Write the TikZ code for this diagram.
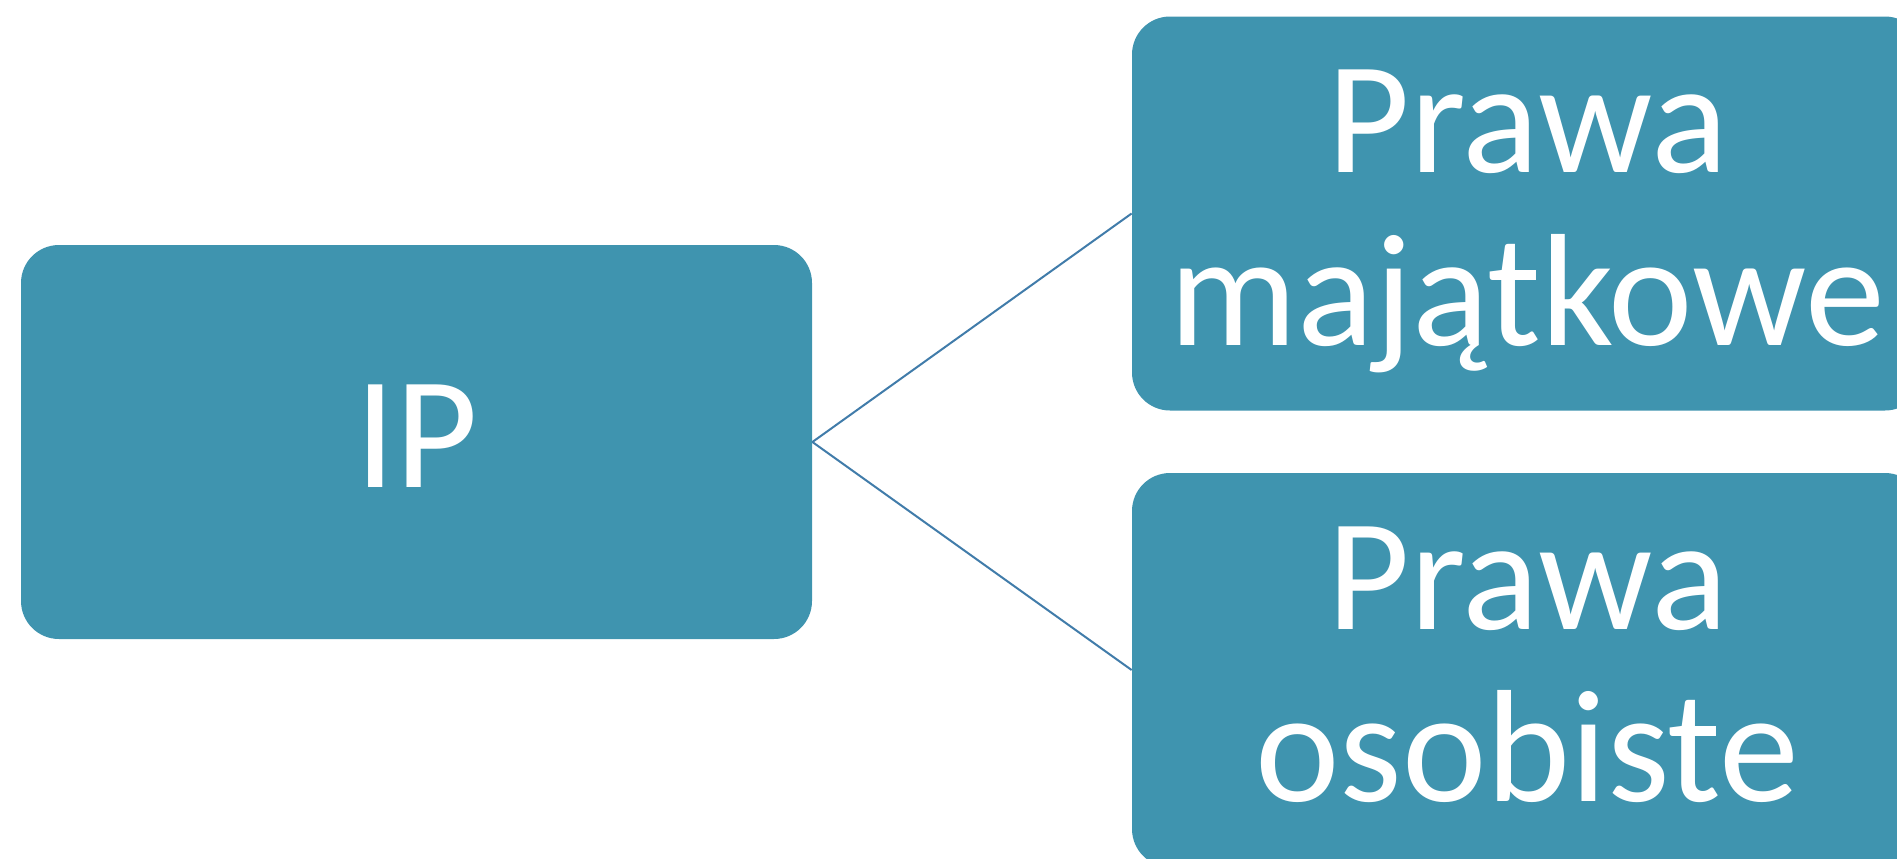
\documentclass[tikz,border=0pt]{standalone}
\usepackage{fontspec}
\setmainfont{Carlito}
\definecolor{boxfill}{RGB}{63,148,175}
\definecolor{linkcol}{RGB}{65,124,170}
\begin{document}
\begin{tikzpicture}[x=0.5pt,y=-0.5pt,
  box/.style={fill=boxfill, draw=none, rounded corners=19pt, minimum width=395.5pt, minimum height=197pt, inner sep=0pt},
  lbl/.style={text=white, font=\fontsize{80}{96}\selectfont, anchor=base, inner sep=0pt},
  link/.style={draw=linkcol, line width=1pt}]
\useasboundingbox (0,0) rectangle (1897,858);
\clip (0,0) rectangle (1897,858);
\node[box] (ip) at (416.5,442) {};
\node[box] (pm) at (1527.5,213.5) {};
\node[box] (po) at (1527.5,670) {};
\draw[link] (ip.east) -- (pm.west);
\draw[link] (ip.east) -- (po.west);
\node[lbl] (ipt) at (416.5,487) {IP};
\node[lbl] (pm1) at (1527.5,172) {Prawa};
\node[lbl] (pm2) at (1527.5,345) {majątkowe};
\node[lbl] (po1) at (1527.5,629) {Prawa};
\node[lbl] (po2) at (1527.5,801) {osobiste};
\end{tikzpicture}
\end{document}
